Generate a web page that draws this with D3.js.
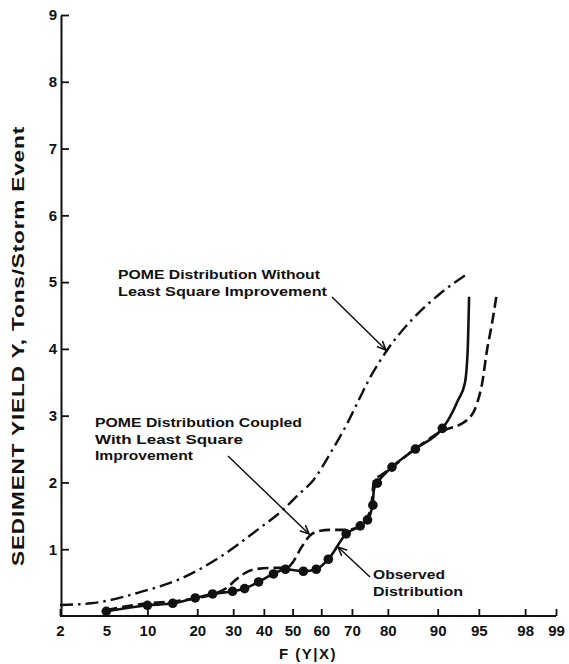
<!DOCTYPE html>
<meta charset="utf-8">
<script src="https://d3js.org/d3.v7.min.js"></script>
<style>
  body { margin: 0; background: #fff; }
  svg text { font-family: "Liberation Sans", Arial, sans-serif; font-weight: bold; fill: #111; }
</style>
<div id="chart"></div>
<script>
// probability axis ticks (percent) and sediment yield ticks
var xTicks = [2, 5, 10, 20, 30, 40, 50, 60, 70, 80, 90, 95, 98, 99]
var yTicks = [1, 2, 3, 4, 5, 6, 7, 8, 9]

// observed distribution, the plotted dots
var obsDotF = [5, 10, 14.5, 19.5, 24, 29.8, 33.6, 38.2, 43.3, 47.5, 53.8, 58.3, 62.4, 68.2, 72.5, 74.6, 76.1, 77.3, 81, 86.1, 90.7]
var obsDotY = [0.07, 0.16, 0.19, 0.27, 0.33, 0.37, 0.41, 0.51, 0.63, 0.70, 0.67, 0.70, 0.85, 1.23, 1.35, 1.44, 1.66, 1.99, 2.23, 2.50, 2.81]
// observed curve (goes through the dots, then turns up)
var obsLineF = [5, 10, 14.5, 19.5, 24, 29.8, 33.6, 38.2, 43.3, 47.5, 53.8, 58.3, 62.4, 68.2, 72.5, 74.6, 76.0, 76.4, 77.3, 81, 86.1, 90.7, 91.5, 92.8, 93.6, 93.9, 94.05]
var obsLineY = [0.07, 0.16, 0.19, 0.27, 0.33, 0.37, 0.41, 0.51, 0.63, 0.70, 0.67, 0.70, 0.85, 1.23, 1.35, 1.44, 1.66, 1.90, 1.99, 2.23, 2.50, 2.81, 2.93, 3.23, 3.49, 3.98, 4.78]

// POME distribution coupled with least square improvement (dashed)
var lsqF = [5, 10, 15, 20, 25, 28, 31, 34, 37, 42, 48, 50, 53, 56, 59, 63, 68.5, 72.5, 75.5, 76.5, 78, 81, 86, 90.5, 93.8, 94.85, 95.3, 95.7, 96.1, 96.4]
var lsqY = [0.09, 0.19, 0.22, 0.27, 0.34, 0.42, 0.55, 0.65, 0.70, 0.72, 0.72, 0.80, 1.02, 1.20, 1.27, 1.29, 1.29, 1.35, 1.60, 2.05, 2.10, 2.23, 2.50, 2.76, 2.93, 3.19, 3.49, 3.98, 4.39, 4.78]

// POME distribution without least square improvement (dash-dot)
var pomeF = [2, 3.75, 9.0, 16.2, 26.3, 37.8, 46.9, 51.6, 57.4, 63.1, 68.5, 72.5, 74.9, 79.8, 85.7, 90.4, 93.6]
var pomeY = [0.165, 0.19, 0.36, 0.56, 0.89, 1.29, 1.60, 1.80, 2.04, 2.44, 2.88, 3.28, 3.53, 3.98, 4.46, 4.83, 5.10]

var width = 569
var height = 664

// inverse normal cdf (Acklam), used for the probability paper axis
function probit(p) {
    var a = [-39.69683028665376, 220.9460984245205, -275.9285104469687, 138.3577518672690, -30.66479806614716, 2.506628277459239]
    var b = [-54.47609879822406, 161.5858368580409, -155.6989798598866, 66.80131188771972, -13.28068155288572]
    var c = [-0.007784894002430293, -0.3223964580411365, -2.400758277161838, -2.549732539343734, 4.374664141464968, 2.938163982698783]
    var d = [0.007784695709041462, 0.3224671290700398, 2.445134137142996, 3.754408661907416]
    var q, r
    if (p < 0.02425) {
        q = Math.sqrt(-2 * Math.log(p))
        return (((((c[0] * q + c[1]) * q + c[2]) * q + c[3]) * q + c[4]) * q + c[5]) /
            ((((d[0] * q + d[1]) * q + d[2]) * q + d[3]) * q + 1)
    }
    if (p > 1 - 0.02425) {
        q = Math.sqrt(-2 * Math.log(1 - p))
        return -(((((c[0] * q + c[1]) * q + c[2]) * q + c[3]) * q + c[4]) * q + c[5]) /
            ((((d[0] * q + d[1]) * q + d[2]) * q + d[3]) * q + 1)
    }
    q = p - 0.5
    r = q * q
    return (((((a[0] * r + a[1]) * r + a[2]) * r + a[3]) * r + a[4]) * r + a[5]) * q /
        (((((b[0] * r + b[1]) * r + b[2]) * r + b[3]) * r + b[4]) * r + 1)
}

var svg = d3.select("#chart")
    .append("svg")
    .attr("width", width)
    .attr("height", height)

var z = d3.scaleLinear()
    .domain([probit(0.02), probit(0.99)])
    .range([60, 556])
var x = function (pct) { return z(probit(pct / 100)) }

var y = d3.scaleLinear()
    .domain([0, 9])
    .range([616, 15])

// axes
var xAxis = d3.axisBottom(z)
    .tickValues(xTicks.map(function (p) { return probit(p / 100) }))
    .tickFormat(function (d, i) { return xTicks[i] })
    .tickSize(-7)
    .tickSizeOuter(0)
    .tickPadding(9)

var gx = svg.append("g")
    .attr("transform", "translate(0," + y(0) + ")")
    .call(xAxis)
gx.select(".domain").attr("d", "M" + 60 + ",0H" + x(99)).attr("stroke-width", 2)

var yAxis = d3.axisLeft(y)
    .tickValues(yTicks)
    .tickSize(-8)
    .tickSizeOuter(0)
    .tickPadding(4)

var gy = svg.append("g")
    .attr("transform", "translate(61,0)")
    .call(yAxis)
gy.select(".domain").attr("stroke-width", 2)

svg.selectAll(".tick line").attr("stroke", "#111").attr("stroke-width", 1.8)
svg.selectAll(".domain").attr("stroke", "#111")
svg.selectAll(".tick text")
    .attr("fill", "#111")
    .style("font-size", "15px")
    .style("font-family", "'Liberation Sans', Arial, sans-serif")
    .style("font-weight", "bold")

// axis titles
svg.append("text")
    .attr("transform", "translate(24,346) rotate(-90)")
    .attr("text-anchor", "middle")
    .attr("textLength", 440)
    .attr("lengthAdjust", "spacingAndGlyphs")
    .style("font-size", "16.5px")
    .style("letter-spacing", "0.6px")
    .text("SEDIMENT YIELD Y, Tons/Storm Event")

svg.append("text")
    .attr("x", 308)
    .attr("y", 659)
    .attr("text-anchor", "middle")
    .style("font-size", "15px")
    .style("letter-spacing", "1.5px")
    .text("F (Y|X)")

// curves
function pairs(F, Y) { return F.map(function (f, i) { return [x(f), y(Y[i])] }) }
var line = d3.line().curve(d3.curveMonotoneX)

svg.append("path")
    .attr("d", line(pairs(pomeF, pomeY)))
    .attr("fill", "none")
    .attr("stroke", "#111")
    .attr("stroke-width", 2.4)
    .attr("stroke-dasharray", "13,5,2.5,5")

svg.append("path")
    .attr("d", line(pairs(lsqF, lsqY)))
    .attr("fill", "none")
    .attr("stroke", "#111")
    .attr("stroke-width", 2.6)
    .attr("stroke-dasharray", "11,5")

svg.append("path")
    .attr("d", line(pairs(obsLineF, obsLineY)))
    .attr("fill", "none")
    .attr("stroke", "#111")
    .attr("stroke-width", 2.6)

svg.selectAll("circle.obs")
    .data(pairs(obsDotF, obsDotY))
    .enter()
    .append("circle")
    .attr("class", "obs")
    .attr("cx", function (d) { return d[0] })
    .attr("cy", function (d) { return d[1] })
    .attr("r", 4.8)
    .attr("fill", "#111")

// annotations
svg.append("defs").append("marker")
    .attr("id", "arr")
    .attr("viewBox", "0 0 10 10")
    .attr("refX", 9)
    .attr("refY", 5)
    .attr("markerWidth", 10)
    .attr("markerHeight", 10)
    .attr("markerUnits", "userSpaceOnUse")
    .attr("orient", "auto")
    .append("path")
    .attr("d", "M0,1 L9,5 L0,9")
    .attr("fill", "none")
    .attr("stroke", "#111")
    .attr("stroke-width", 1.6)

var notes = [
    { lines: ["POME Distribution Without", "Least Square Improvement"], x: 118, y: 279, w: [202, 209] },
    { lines: ["POME Distribution Coupled", "With Least Square", "Improvement"], x: 95, y: 427, w: [207, 148, 98] },
    { lines: ["Observed", "Distribution"], x: 373, y: 579, w: [72, 90] }
]
notes.forEach(function (n) {
    n.lines.forEach(function (t, i) {
        svg.append("text")
            .attr("x", n.x)
            .attr("y", n.y + i * 16.5)
            .attr("textLength", n.w[i])
            .attr("lengthAdjust", "spacingAndGlyphs")
            .style("font-size", "13.5px")
            .text(t)
    })
})

var arrows = [
    [332, 297, 386, 350],
    [228, 456, 309, 534],
    [370, 577, 338, 547]
]
svg.selectAll("line.arrow")
    .data(arrows)
    .enter()
    .append("line")
    .attr("class", "arrow")
    .attr("x1", function (d) { return d[0] })
    .attr("y1", function (d) { return d[1] })
    .attr("x2", function (d) { return d[2] })
    .attr("y2", function (d) { return d[3] })
    .attr("stroke", "#111")
    .attr("stroke-width", 1.5)
    .attr("marker-end", "url(#arr)")
</script>
